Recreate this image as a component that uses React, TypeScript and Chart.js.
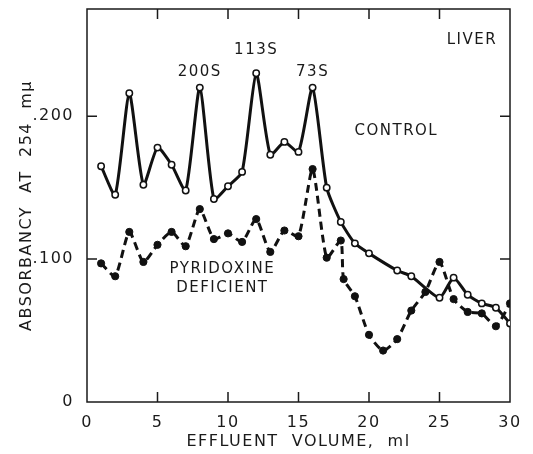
import { useEffect, useRef } from "react";
import { Chart, registerables } from "chart.js";

Chart.register(...registerables);

// Control (open circles, solid line)
const controlX = [1, 2, 3, 4, 5, 6, 7, 8, 9, 10, 11, 12, 13, 14, 15, 16, 17, 18, 19, 20, 22, 23, 25, 26, 27, 28, 29, 30];
const controlY = [0.165, 0.145, 0.216, 0.152, 0.178, 0.166, 0.148, 0.220, 0.142, 0.151, 0.161, 0.230, 0.173, 0.182, 0.175, 0.220, 0.150, 0.126, 0.111, 0.104, 0.092, 0.088, 0.073, 0.087, 0.075, 0.069, 0.066, 0.055];

// Pyridoxine deficient (filled circles, dashed line)
const deficientX = [1, 2, 3, 4, 5, 6, 7, 8, 9, 10, 11, 12, 13, 14, 15, 16, 17, 18, 18.2, 19, 20, 21, 22, 23, 24, 25, 26, 27, 28, 29, 30];
const deficientY = [0.097, 0.088, 0.119, 0.098, 0.110, 0.119, 0.109, 0.135, 0.114, 0.118, 0.112, 0.128, 0.105, 0.120, 0.116, 0.163, 0.101, 0.113, 0.086, 0.074, 0.047, 0.036, 0.044, 0.064, 0.077, 0.098, 0.072, 0.063, 0.062, 0.053, 0.069];

const yTickValues = [0, 0.1, 0.2];
const yTickLabels = ["0", ".100", ".200"];
const xInnerTicks = [5, 10, 15, 20, 25];
const yInnerTicks = [0.1, 0.2];

const noteTexts = ["200S", "113S", "73S", "CONTROL", "LIVER", "PYRIDOXINE", "DEFICIENT"];
const noteX = [8.0, 12.0, 16.0, 18.97, 27.3, 9.6, 9.6];
const noteY = [0.231, 0.246, 0.231, 0.1895, 0.253, 0.093, 0.0797];
const noteAlign = ["center", "center", "center", "left", "center", "center", "center"];

const INK = "#1a1a1a";
const FONT = "DejaVu Sans";

const spacingPlugin = {
  id: "spacing",
  beforeDraw(chart: any) {
    (chart.ctx as any).letterSpacing = "1.5px";
  },
};

const framePlugin = {
  id: "frame",
  beforeDatasetsDraw(chart: any) {
    const { ctx, chartArea, scales } = chart;
    const { left, right, top, bottom } = chartArea;
    const xs = scales.x;
    const ys = scales.y;
    ctx.save();
    ctx.strokeStyle = INK;
    ctx.lineWidth = 1.5;
    ctx.strokeRect(left, top, right - left, bottom - top);
    const tl = 10;
    ctx.beginPath();
    for (const v of xInnerTicks) {
      const px = xs.getPixelForValue(v);
      ctx.moveTo(px, bottom);
      ctx.lineTo(px, bottom - tl);
      ctx.moveTo(px, top);
      ctx.lineTo(px, top + tl);
    }
    for (const v of yInnerTicks) {
      const py = ys.getPixelForValue(v);
      ctx.moveTo(left, py);
      ctx.lineTo(left + tl, py);
      ctx.moveTo(right, py);
      ctx.lineTo(right - tl, py);
    }
    ctx.stroke();
    ctx.restore();
  },
  afterDatasetsDraw(chart: any) {
    const { ctx, scales } = chart;
    ctx.save();
    ctx.fillStyle = INK;
    ctx.font = `15px "${FONT}"`;
    (ctx as any).letterSpacing = "1.5px";
    ctx.textBaseline = "middle";
    noteTexts.forEach((t, i) => {
      ctx.textAlign = noteAlign[i] as CanvasTextAlign;
      ctx.fillText(t, scales.x.getPixelForValue(noteX[i]), scales.y.getPixelForValue(noteY[i]));
    });
    ctx.restore();
  },
};

const zeroPad = (s: any) => {
  s.paddingTop = 0;
  s.paddingBottom = 0;
  s.paddingLeft = 0;
  s.paddingRight = 0;
};

export default function App() {
  const ref = useRef<HTMLCanvasElement | null>(null);
  useEffect(() => {
    if (!ref.current) return;
    const chart = new Chart(ref.current, {
      type: "line",
      data: {
        datasets: [
          {
            label: "CONTROL",
            data: controlX.map((x, i) => ({ x, y: controlY[i] })),
            borderColor: "#111",
            borderWidth: 3,
            tension: 0.2,
            pointRadius: 3.2,
            pointBorderWidth: 1.5,
            pointBackgroundColor: "#fff",
            pointBorderColor: "#111",
          },
          {
            label: "PYRIDOXINE DEFICIENT",
            data: deficientX.map((x, i) => ({ x, y: deficientY[i] })),
            borderColor: "#111",
            borderWidth: 3,
            borderDash: [8, 5],
            tension: 0.2,
            pointRadius: 3.6,
            pointBorderWidth: 1,
            pointBackgroundColor: "#111",
            pointBorderColor: "#111",
          },
        ],
      },
      options: {
        animation: false,
        responsive: false,
        devicePixelRatio: 1,
        layout: { padding: { top: 9, right: 23, left: 0, bottom: 0 } },
        plugins: { legend: { display: false }, tooltip: { enabled: false } },
        scales: {
          x: {
            type: "linear",
            min: 0,
            max: 30,
            grid: { display: false, drawTicks: false },
            border: { display: false },
            ticks: {
              stepSize: 5,
              padding: 11,
              color: INK,
              maxRotation: 0,
              autoSkip: false,
              font: { family: FONT, size: 16 },
            },
            title: {
              display: true,
              text: "EFFLUENT  VOLUME,  ml",
              color: INK,
              font: { family: FONT, size: 16 },
              padding: { top: 0, bottom: 3 },
            },
            afterFit: (s: any) => {
              s.height = 52;
              zeroPad(s);
            },
          },
          y: {
            type: "linear",
            min: 0,
            max: 0.275,
            grid: { display: false, drawTicks: false },
            border: { display: false },
            afterBuildTicks: (s: any) => {
              s.ticks = yTickValues.map((v) => ({ value: v }));
            },
            ticks: {
              padding: 13,
              color: INK,
              font: { family: FONT, size: 16 },
              callback: (v: any) => {
                const idx = yTickValues.findIndex((t) => Math.abs(t - Number(v)) < 1e-9);
                return idx >= 0 ? yTickLabels[idx] : "";
              },
            },
            title: {
              display: true,
              text: "ABSORBANCY  AT  254  mμ",
              color: INK,
              font: { family: FONT, size: 16 },
              padding: { top: 17, bottom: 0 },
            },
            afterFit: (s: any) => {
              s.width = 87;
              zeroPad(s);
            },
          },
        },
      },
      plugins: [spacingPlugin, framePlugin],
    } as any);
    return () => chart.destroy();
  }, []);
  return (
    <div style={{ position: "absolute", left: 0, top: 0, width: 533, height: 454 }}>
      <canvas ref={ref} width={533} height={454} />
    </div>
  );
}
